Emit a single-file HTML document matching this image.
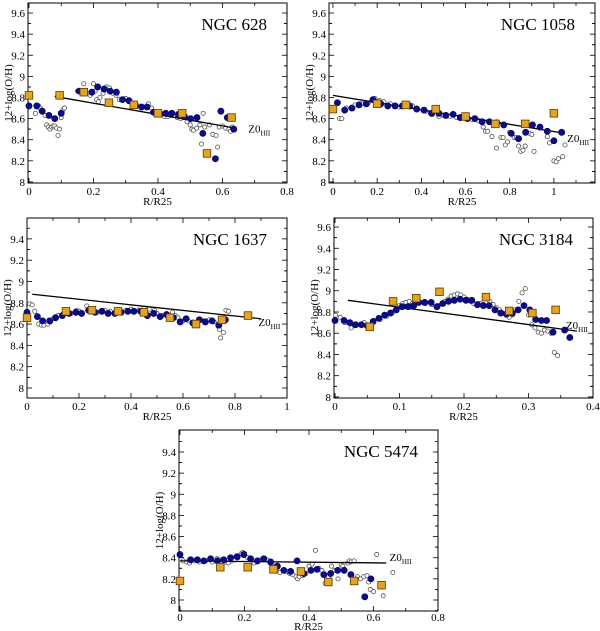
<!DOCTYPE html>
<html><head><meta charset="utf-8"><style>
html,body{margin:0;padding:0;background:#fff;}
svg{display:block;font-family:"Liberation Serif",serif;}
</style></head><body>
<svg id="fig" width="600" height="631" viewBox="0 0 600 631" xmlns="http://www.w3.org/2000/svg"></svg>
<script>
// ---- NGC 628 ----
const p1Blue=[[0,8.72],[0.024,8.72],[0.041,8.67],[0.062,8.63],[0.08,8.60],[0.1,8.65],[0.156,8.86],[0.195,8.85],[0.213,8.90],[0.233,8.88],[0.252,8.86],[0.271,8.85],[0.29,8.78],[0.31,8.77],[0.33,8.73],[0.349,8.71],[0.366,8.71],[0.386,8.66],[0.405,8.65],[0.424,8.65],[0.443,8.65],[0.463,8.64],[0.482,8.62],[0.501,8.60],[0.521,8.61],[0.539,8.46],[0.578,8.22],[0.595,8.67],[0.615,8.61],[0.635,8.50]];
const p1Open=[[0.02,8.65],[0.03,8.72],[0.035,8.70],[0.04,8.68],[0.05,8.63],[0.055,8.54],[0.06,8.52],[0.065,8.50],[0.07,8.52],[0.075,8.53],[0.08,8.53],[0.085,8.51],[0.09,8.44],[0.095,8.50],[0.1,8.61],[0.105,8.68],[0.11,8.70],[0.15,8.86],[0.17,8.93],[0.18,8.84],[0.19,8.82],[0.2,8.93],[0.205,8.86],[0.21,8.78],[0.215,8.76],[0.22,8.8],[0.23,8.84],[0.24,8.9],[0.25,8.89],[0.26,8.84],[0.27,8.82],[0.28,8.78],[0.3,8.79],[0.31,8.76],[0.33,8.72],[0.35,8.70],[0.37,8.74],[0.38,8.7],[0.39,8.66],[0.41,8.64],[0.42,8.62],[0.43,8.62],[0.44,8.63],[0.46,8.61],[0.47,8.6],[0.48,8.61],[0.49,8.57],[0.5,8.54],[0.505,8.5],[0.51,8.49],[0.52,8.51],[0.53,8.54],[0.535,8.36],[0.54,8.65],[0.545,8.52],[0.56,8.54],[0.57,8.45],[0.58,8.44],[0.585,8.33],[0.59,8.52],[0.6,8.53],[0.61,8.51],[0.62,8.5],[0.625,8.48],[0.63,8.52]];
const p1Sq=[[0,8.82],[0.095,8.82],[0.17,8.85],[0.248,8.75],[0.325,8.73],[0.4,8.65],[0.475,8.65],[0.552,8.27],[0.628,8.61]];
const p1Fit=[[0.08,8.81],[0.64,8.51]];
const p1Lab=[0.68,8.47];
const p1XT=[0,0.2,0.4,0.6,0.8];
const p1YT=[8,8.2,8.4,8.6,8.8,9,9.2,9.4,9.6];
// ---- NGC 1058 ----
const p2Blue=[[0.02,8.75],[0.053,8.68],[0.086,8.70],[0.118,8.73],[0.151,8.74],[0.181,8.78],[0.216,8.74],[0.248,8.72],[0.281,8.72],[0.314,8.72],[0.347,8.72],[0.379,8.69],[0.412,8.68],[0.446,8.65],[0.479,8.65],[0.511,8.63],[0.544,8.64],[0.576,8.61],[0.609,8.6],[0.642,8.6],[0.675,8.57],[0.708,8.57],[0.742,8.56],[0.773,8.54],[0.807,8.46],[0.84,8.41],[0.872,8.47],[0.903,8.54],[0.937,8.52],[0.97,8.48],[1.0,8.39],[1.035,8.47]];
const p2Open=[[0.03,8.6],[0.04,8.6],[0.06,8.7],[0.1,8.73],[0.13,8.74],[0.16,8.75],[0.19,8.79],[0.21,8.77],[0.23,8.76],[0.26,8.74],[0.28,8.72],[0.3,8.71],[0.33,8.72],[0.36,8.72],[0.38,8.7],[0.42,8.67],[0.45,8.64],[0.48,8.62],[0.5,8.63],[0.53,8.62],[0.56,8.61],[0.6,8.6],[0.63,8.59],[0.66,8.58],[0.68,8.52],[0.69,8.48],[0.7,8.48],[0.72,8.43],[0.74,8.32],[0.76,8.42],[0.77,8.42],[0.78,8.35],[0.79,8.38],[0.8,8.47],[0.82,8.42],[0.83,8.42],[0.84,8.34],[0.85,8.29],[0.86,8.3],[0.87,8.34],[0.89,8.46],[0.9,8.45],[0.91,8.29],[0.97,8.43],[0.98,8.37],[1.0,8.2],[1.01,8.19],[1.02,8.22],[1.04,8.24],[1.05,8.35]];
const p2Sq=[[0,8.69],[0.2,8.74],[0.33,8.73],[0.465,8.69],[0.6,8.62],[0.735,8.55],[0.87,8.55],[1.0,8.65]];
const p2Fit=[[0,8.82],[1.05,8.46]];
const p2Lab=[1.06,8.38];
const p2XT=[0,0.2,0.4,0.6,0.8,1];
const p2YT=[8,8.2,8.4,8.6,8.8,9,9.2,9.4,9.6];
// ---- NGC 1637 ----
const p3Blue=[[0,8.71],[0.04,8.67],[0.06,8.63],[0.087,8.63],[0.11,8.66],[0.136,8.68],[0.162,8.7],[0.188,8.71],[0.21,8.7],[0.237,8.73],[0.262,8.71],[0.288,8.72],[0.312,8.7],[0.338,8.7],[0.362,8.71],[0.388,8.72],[0.411,8.72],[0.437,8.72],[0.463,8.68],[0.487,8.7],[0.512,8.67],[0.537,8.69],[0.563,8.66],[0.589,8.62],[0.612,8.65],[0.638,8.61],[0.663,8.64],[0.686,8.62],[0.712,8.63],[0.738,8.59],[0.763,8.64]];
const p3Open=[[0.01,8.79],[0.02,8.78],[0.03,8.72],[0.045,8.6],[0.055,8.59],[0.065,8.59],[0.08,8.6],[0.09,8.62],[0.1,8.65],[0.12,8.68],[0.15,8.7],[0.17,8.7],[0.19,8.73],[0.2,8.72],[0.23,8.77],[0.25,8.74],[0.27,8.71],[0.3,8.73],[0.32,8.72],[0.35,8.73],[0.38,8.73],[0.4,8.74],[0.43,8.73],[0.45,8.75],[0.47,8.74],[0.49,8.73],[0.5,8.7],[0.52,8.68],[0.54,8.67],[0.56,8.71],[0.57,8.68],[0.58,8.66],[0.6,8.63],[0.62,8.63],[0.64,8.6],[0.66,8.63],[0.68,8.63],[0.7,8.64],[0.72,8.62],[0.735,8.58],[0.74,8.55],[0.745,8.47],[0.755,8.52],[0.765,8.73],[0.775,8.72]];
const p3Sq=[[0,8.66],[0.15,8.72],[0.25,8.73],[0.35,8.72],[0.45,8.71],[0.55,8.66],[0.65,8.6],[0.75,8.64],[0.85,8.68]];
const p3Fit=[[0.02,8.88],[0.9,8.65]];
const p3Lab=[0.89,8.58];
const p3XT=[0,0.2,0.4,0.6,0.8,1];
const p3YT=[8,8.2,8.4,8.6,8.8,9,9.2,9.4];
// ---- NGC 3184 ----
const p4Blue=[[0,8.72],[0.014,8.72],[0.023,8.7],[0.032,8.68],[0.041,8.68],[0.05,8.67],[0.059,8.71],[0.068,8.74],[0.077,8.77],[0.086,8.79],[0.095,8.82],[0.104,8.85],[0.113,8.85],[0.122,8.86],[0.13,8.89],[0.139,8.89],[0.149,8.89],[0.158,8.85],[0.167,8.88],[0.176,8.9],[0.185,8.91],[0.194,8.92],[0.203,8.91],[0.212,8.91],[0.221,8.87],[0.23,8.86],[0.239,8.86],[0.248,8.82],[0.257,8.79],[0.266,8.78],[0.275,8.79],[0.284,8.82],[0.293,8.86],[0.302,8.82],[0.311,8.73],[0.32,8.72],[0.328,8.72],[0.338,8.61],[0.356,8.63],[0.364,8.56]];
const p4Open=[[0.001,8.77],[0.008,8.75],[0.015,8.7],[0.02,8.7],[0.025,8.65],[0.03,8.67],[0.04,8.68],[0.045,8.7],[0.06,8.72],[0.07,8.73],[0.08,8.76],[0.09,8.8],[0.1,8.86],[0.105,8.88],[0.11,8.89],[0.115,8.9],[0.12,8.88],[0.13,8.89],[0.14,8.88],[0.15,8.87],[0.16,8.86],[0.17,8.9],[0.175,8.92],[0.18,8.95],[0.185,8.96],[0.19,8.97],[0.195,8.96],[0.2,8.94],[0.205,8.92],[0.21,8.9],[0.215,8.88],[0.22,8.86],[0.225,8.88],[0.23,8.87],[0.24,8.9],[0.245,8.87],[0.25,8.84],[0.255,8.82],[0.26,8.79],[0.265,8.77],[0.27,8.75],[0.275,8.77],[0.28,8.82],[0.285,8.9],[0.29,8.98],[0.295,9.02],[0.3,8.77],[0.305,8.68],[0.31,8.65],[0.315,8.61],[0.32,8.6],[0.325,8.63],[0.33,8.62],[0.335,8.6],[0.34,8.42],[0.345,8.39]];
const p4Sq=[[0.054,8.66],[0.09,8.9],[0.126,8.93],[0.162,8.99],[0.234,8.94],[0.27,8.81],[0.306,8.79],[0.342,8.82]];
const p4Fit=[[0.02,8.91],[0.375,8.62]];
const p4Lab=[0.358,8.64];
const p4XT=[0,0.1,0.2,0.3,0.4];
const p4YT=[8,8.2,8.4,8.6,8.8,9,9.2,9.4,9.6];
// ---- NGC 5474 ----
const p5Blue=[[0,8.43],[0.033,8.38],[0.054,8.38],[0.074,8.37],[0.095,8.39],[0.116,8.37],[0.136,8.38],[0.157,8.4],[0.177,8.41],[0.198,8.43],[0.219,8.39],[0.24,8.37],[0.26,8.39],[0.281,8.36],[0.302,8.32],[0.322,8.28],[0.343,8.27],[0.363,8.37],[0.384,8.25],[0.406,8.28],[0.425,8.29],[0.446,8.24],[0.467,8.25],[0.489,8.28],[0.509,8.28],[0.53,8.24],[0.573,8.03],[0.592,8.2]];
const p5Open=[[0.01,8.37],[0.02,8.36],[0.03,8.35],[0.045,8.37],[0.06,8.36],[0.08,8.37],[0.1,8.36],[0.115,8.39],[0.125,8.38],[0.14,8.36],[0.15,8.35],[0.16,8.37],[0.17,8.38],[0.18,8.4],[0.19,8.44],[0.195,8.45],[0.2,8.44],[0.21,8.4],[0.22,8.38],[0.23,8.35],[0.24,8.36],[0.25,8.38],[0.26,8.39],[0.27,8.38],[0.28,8.35],[0.29,8.32],[0.3,8.3],[0.31,8.26],[0.32,8.28],[0.33,8.27],[0.34,8.25],[0.35,8.24],[0.36,8.22],[0.365,8.2],[0.37,8.22],[0.38,8.23],[0.39,8.25],[0.4,8.32],[0.41,8.34],[0.42,8.47],[0.43,8.3],[0.44,8.28],[0.45,8.16],[0.46,8.22],[0.47,8.32],[0.48,8.28],[0.49,8.2],[0.5,8.33],[0.505,8.32],[0.51,8.29],[0.52,8.35],[0.525,8.37],[0.53,8.36],[0.54,8.37],[0.55,8.22],[0.56,8.2],[0.57,8.22],[0.58,8.23],[0.585,8.17],[0.59,8.1],[0.6,8.08],[0.61,8.43],[0.63,8.04],[0.66,8.26]];
const p5Sq=[[0,8.18],[0.125,8.31],[0.21,8.31],[0.29,8.29],[0.375,8.27],[0.46,8.17],[0.54,8.18],[0.625,8.14]];
const p5Fit=[[0,8.37],[0.64,8.35]];
const p5Lab=[0.65,8.37];
const p5XT=[0,0.2,0.4,0.6,0.8];
const p5YT=[8,8.2,8.4,8.6,8.8,9,9.2,9.4];

const NS="http://www.w3.org/2000/svg";
const fig=document.getElementById('fig');
function mk(tag,attrs,parent){const e=document.createElementNS(NS,tag);for(const k in attrs)e.setAttribute(k,attrs[k]);parent.appendChild(e);return e;}
function fmt(v){return String(+v.toFixed(2));}

const panels=[
 {id:'ngc-628',title:'NGC 628',box:[28,3,287,183],xr:[-0.003,0.8],yr:[7.99,9.695],blue:p1Blue,open:p1Open,sq:p1Sq,fit:p1Fit,lab:p1Lab,xt:p1XT,yt:p1YT,tk:12,tt:22},
 {id:'ngc-1058',title:'NGC 1058',box:[329,3,595,183],xr:[-0.018,1.186],yr:[7.99,9.695],blue:p2Blue,open:p2Open,sq:p2Sq,fit:p2Fit,lab:p2Lab,xt:p2XT,yt:p2YT,tk:12,tt:22},
 {id:'ngc-1637',title:'NGC 1637',box:[27,218,287,398],xr:[0,1],yr:[7.906,9.596],blue:p3Blue,open:p3Open,sq:p3Sq,fit:p3Fit,lab:p3Lab,xt:p3XT,yt:p3YT,tk:12,tt:22},
 {id:'ngc-3184',title:'NGC 3184',box:[334,218,593,398],xr:[-0.0016,0.4],yr:[7.99,9.685],blue:p4Blue,open:p4Open,sq:p4Sq,fit:p4Fit,lab:p4Lab,xt:p4XT,yt:p4YT,tk:12,tt:22},
 {id:'ngc-5474',title:'NGC 5474',box:[179,430,438,611],xr:[-0.003,0.8],yr:[7.896,9.608],blue:p5Blue,open:p5Open,sq:p5Sq,fit:p5Fit,lab:p5Lab,xt:p5XT,yt:p5YT,tk:10,tt:19}
];

panels.forEach(p=>{
 const [L,T,R,B]=p.box;
 const X=v=>L+(v-p.xr[0])/(p.xr[1]-p.xr[0])*(R-L);
 const Y=v=>B-(v-p.yr[0])/(p.yr[1]-p.yr[0])*(B-T);
 const g=mk('g',{},fig);
 
 
 const fr=mk('rect',{x:L,y:T,width:R-L,height:B-T,fill:'none',stroke:'#000','stroke-width':1},g);
 
 
 const xstep=p.xt[1]-p.xt[0];
 for(let i=0;i<p.xt.length;i++){
  const v=p.xt[i], x=X(v);
  mk('line',{x1:x,y1:B,x2:x,y2:B-5,stroke:'#000','stroke-width':0.8},g);
  mk('line',{x1:x,y1:T,x2:x,y2:T+5,stroke:'#000','stroke-width':0.8},g);
  const mv=v+xstep/2;
  if(mv<=p.xr[1]){const xm=X(mv);
   mk('line',{x1:xm,y1:B,x2:xm,y2:B-3,stroke:'#000','stroke-width':0.8},g);
   mk('line',{x1:xm,y1:T,x2:xm,y2:T+3,stroke:'#000','stroke-width':0.8},g);}
  const t=mk('text',{x:x,y:B+p.tk,'font-size':11,'text-anchor':'middle'},g);
  t.textContent=fmt(v);
  
  
 }
 for(let i=0;i<p.yt.length;i++){
  const v=p.yt[i], y=Y(v);
  mk('line',{x1:L,y1:y,x2:L+5,y2:y,stroke:'#000','stroke-width':0.8},g);
  mk('line',{x1:R,y1:y,x2:R-5,y2:y,stroke:'#000','stroke-width':0.8},g);
  for(const mv of [v-0.1,v+0.1]){
   if(mv>p.yr[0]&&mv<p.yr[1]&&!(p.yt.some(q=>Math.abs(q-mv)<1e-6))){const ym=Y(mv);
    mk('line',{x1:L,y1:ym,x2:L+3,y2:ym,stroke:'#000','stroke-width':0.8},g);
    mk('line',{x1:R,y1:ym,x2:R-3,y2:ym,stroke:'#000','stroke-width':0.8},g);}
  }
  const t=mk('text',{x:L-3,y:y+4,'font-size':11,'text-anchor':'end'},g);
  t.textContent=fmt(v);
  
  
 }
 const xt=mk('text',{x:(L+R)/2,y:B+p.tt,'font-size':11,'text-anchor':'middle'},g);
 xt.textContent='R/R25';
 
 
 const cy=(T+B)/2;
 const yt=mk('text',{x:L-16,y:cy,'font-size':11,'text-anchor':'middle',transform:'rotate(-90 '+(L-16)+' '+cy+')'},g);
 yt.textContent='12+log(O/H)';
 
 
 const ti=mk('text',{x:R-20,y:T+27,'font-size':17,'text-anchor':'end'},g);
 ti.textContent=p.title;
 
 
 p.open.forEach(d=>{
  const c=mk('circle',{cx:X(d[0]),cy:Y(d[1]),r:2.1,fill:'#fff',stroke:'#555','stroke-width':0.8},g);
  
  
 });
 const ln=mk('line',{x1:X(p.fit[0][0]),y1:Y(p.fit[0][1]),x2:X(p.fit[1][0]),y2:Y(p.fit[1][1]),stroke:'#000','stroke-width':1.3},g);
 
 
 p.blue.forEach(d=>{
  const c=mk('circle',{cx:X(d[0]),cy:Y(d[1]),r:3.1,fill:'#0a0a9a',stroke:'#00004a','stroke-width':0.6},g);
  
  
 });
 p.sq.forEach(d=>{
  const s=mk('rect',{x:X(d[0])-3.8,y:Y(d[1])-3.8,width:7.6,height:7.6,fill:'#e8a317',stroke:'#5a3a00','stroke-width':0.8},g);
  
  
 });
 const zl=mk('text',{x:X(p.lab[0]),y:Y(p.lab[1]),'font-size':11},g);
 
 
 zl.textContent='Z0';
 const sub=mk('tspan',{'font-size':7,dy:3},zl);
 sub.textContent='HII';
});
</script>
</body></html>
